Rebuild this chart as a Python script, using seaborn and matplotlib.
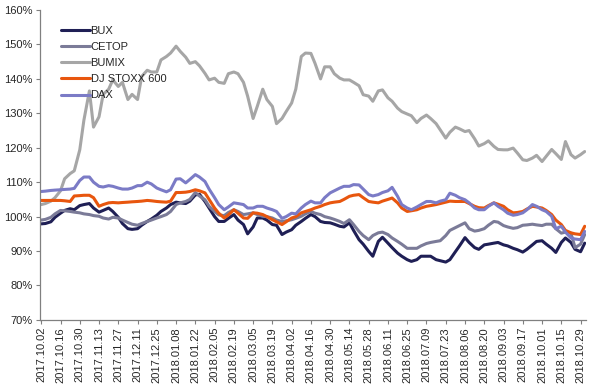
import pandas as pd
import matplotlib
matplotlib.use('Agg')
import matplotlib.pyplot as plt
import matplotlib.dates as mdates
from matplotlib.ticker import FuncFormatter
import seaborn as sns

sns.set_style('white')
plt.rcParams['font.family'] = ['Liberation Sans', 'DejaVu Sans']

# two readings a week: Mondays and Thursdays
mondays = pd.date_range('2017-10-02', '2018-10-29', freq='W-MON')
thursdays = pd.date_range('2017-10-05', '2018-11-01', freq='W-THU')

bux_mon = [97.9, 98.5, 101.0, 102.3, 103.2, 103.8, 101.3, 102.5, 99.8, 96.5,
           96.5, 98.6, 100.4, 102.5, 104.2, 103.8, 106.3, 104.4, 100.0, 98.6,
           100.6, 97.7, 97.0, 99.6, 97.7, 94.8, 96.2, 98.6, 100.6, 98.6,
           98.2, 97.2, 98.2, 93.3, 89.9, 92.8, 92.3, 89.4, 87.5, 87.5,
           88.5, 87.5, 86.8, 89.8, 93.9, 91.0, 91.8, 92.3, 91.8, 90.8,
           89.7, 91.8, 93.0, 90.8, 92.5, 92.5, 89.8]
bux_thu = [98.0, 99.8, 101.8, 102.0, 103.5, 102.5, 101.8, 101.5, 98.0, 96.3,
           97.5, 99.3, 101.5, 103.5, 104.0, 104.5, 106.5, 102.5, 98.6, 99.5,
           99.0, 95.0, 99.6, 99.0, 97.5, 95.5, 97.5, 99.5, 100.0, 98.3,
           97.8, 97.0, 96.0, 92.0, 88.5, 94.0, 91.0, 88.5, 87.0, 88.5,
           88.5, 87.2, 87.5, 91.5, 92.5, 90.5, 92.0, 92.5, 91.5, 90.4,
           90.5, 92.8, 92.0, 89.6, 93.8, 90.5, 92.3]

cetop_mon = [99.0, 99.8, 101.8, 101.5, 101.1, 100.6, 100.1, 99.3, 99.6, 98.3,
             97.5, 98.6, 99.6, 100.6, 103.5, 104.4, 107.0, 104.9, 101.5, 100.3,
             102.0, 100.6, 101.1, 100.1, 99.6, 98.6, 99.1, 100.1, 101.5, 100.6,
             99.6, 98.6, 99.1, 95.7, 93.3, 95.3, 94.8, 92.8, 90.8, 90.8,
             92.2, 92.8, 94.5, 96.8, 98.2, 95.8, 96.5, 98.6, 97.4, 96.6,
             97.5, 97.8, 97.4, 97.8, 95.2, 95.2, 92.0]
cetop_thu = [99.2, 100.8, 101.7, 101.3, 100.8, 100.3, 99.6, 99.8, 99.0, 97.8,
             98.0, 99.0, 100.0, 101.5, 104.0, 105.0, 106.0, 103.0, 100.5, 101.2,
             101.5, 100.8, 100.6, 100.0, 99.0, 98.8, 99.5, 100.8, 101.0, 100.0,
             99.2, 98.0, 97.7, 94.5, 94.5, 95.5, 93.8, 92.0, 90.8, 91.5,
             92.5, 93.0, 96.0, 97.4, 96.5, 96.0, 97.5, 98.4, 97.0, 96.8,
             97.6, 97.6, 97.8, 96.5, 95.5, 91.0, 94.8]

bumix_mon = [103.5, 104.5, 107.5, 112.5, 119.4, 136.5, 129.0, 137.0, 137.8, 134.0,
             134.0, 142.5, 142.0, 146.5, 149.5, 146.3, 145.0, 141.6, 140.2, 138.7,
             142.0, 139.0, 128.5, 137.0, 132.0, 128.5, 133.0, 146.5, 147.4, 140.0,
             143.5, 140.2, 139.7, 138.0, 135.0, 136.5, 134.5, 131.5, 129.8, 127.3,
             129.5, 127.0, 122.8, 126.0, 124.7, 122.6, 121.2, 120.4, 119.4, 119.9,
             116.5, 117.0, 116.0, 119.5, 116.6, 118.0, 118.0]
bumix_thu = [103.8, 105.5, 111.0, 113.3, 128.0, 126.0, 135.5, 139.7, 139.0, 135.5,
             140.7, 142.0, 145.5, 147.5, 148.0, 144.5, 143.8, 139.7, 139.0, 141.5,
             141.5, 135.0, 132.0, 134.0, 127.0, 130.5, 137.0, 147.5, 144.5, 143.5,
             141.5, 139.7, 139.0, 135.4, 133.5, 136.8, 133.5, 130.5, 129.3, 128.5,
             128.5, 125.2, 124.5, 125.5, 125.0, 120.5, 122.0, 119.5, 119.4, 118.5,
             116.3, 117.8, 117.5, 118.3, 121.8, 117.0, 118.9]

stoxx_mon = [104.7, 104.7, 104.7, 104.4, 106.1, 106.2, 103.0, 104.0, 104.0, 104.2,
             104.4, 104.7, 104.4, 104.2, 107.0, 107.1, 107.8, 106.9, 102.5, 99.6,
             102.0, 99.6, 101.1, 100.6, 99.1, 97.7, 99.6, 101.1, 102.0, 103.0,
             104.0, 104.4, 105.9, 106.4, 104.4, 104.0, 105.0, 104.0, 101.5, 102.0,
             103.0, 103.5, 104.2, 104.4, 104.4, 103.0, 102.5, 104.0, 103.0, 101.1,
             101.5, 103.0, 102.5, 100.6, 97.7, 95.3, 94.8]
stoxx_thu = [104.7, 104.7, 104.6, 106.0, 106.2, 105.5, 103.5, 104.1, 104.1, 104.3,
             104.5, 104.6, 104.3, 104.5, 107.0, 107.3, 107.5, 105.0, 101.0, 100.5,
             101.0, 99.5, 101.0, 100.0, 98.5, 98.5, 100.0, 101.5, 102.5, 103.5,
             104.2, 105.0, 106.2, 105.5, 104.2, 104.5, 105.4, 102.5, 101.7, 102.5,
             103.2, 103.8, 104.5, 104.4, 103.8, 102.6, 103.2, 103.6, 102.0, 101.2,
             102.2, 102.8, 101.8, 99.0, 96.0, 95.0, 97.2]

dax_mon = [107.3, 107.6, 107.8, 108.0, 110.5, 111.5, 108.8, 109.0, 108.3, 108.0,
           109.0, 110.0, 108.3, 107.2, 110.9, 109.8, 112.2, 110.2, 105.5, 102.0,
           104.0, 103.5, 102.5, 103.0, 102.0, 99.5, 101.0, 102.5, 104.5, 104.0,
           106.9, 108.3, 108.8, 109.2, 106.4, 106.4, 107.5, 105.9, 102.5, 102.8,
           104.4, 104.0, 104.9, 106.2, 104.9, 102.5, 102.0, 104.0, 102.0, 100.4,
           101.1, 103.5, 102.0, 100.1, 97.2, 93.8, 93.3]
dax_thu = [107.4, 107.7, 107.9, 108.2, 111.5, 110.0, 108.6, 108.8, 108.0, 108.3,
           109.0, 109.5, 107.8, 107.8, 111.0, 110.8, 111.5, 108.0, 103.5, 102.8,
           103.8, 102.5, 103.0, 102.5, 101.5, 100.0, 100.8, 103.5, 104.0, 105.5,
           107.5, 108.8, 109.3, 108.0, 106.0, 107.0, 108.5, 103.5, 102.0, 103.5,
           104.4, 104.5, 106.8, 105.5, 104.0, 102.0, 103.0, 103.0, 101.0, 100.6,
           102.0, 103.0, 101.5, 96.5, 95.5, 93.5, 95.7]

names = ['BUX', 'CETOP', 'BUMIX', 'DJ STOXX 600', 'DAX']
colors = ['#1f1f55', '#7b7b98', '#a6a6a6', '#e8560e', '#7b7bc6']

mon = pd.DataFrame({'date': mondays, 'BUX': bux_mon, 'CETOP': cetop_mon, 'BUMIX': bumix_mon,
                    'DJ STOXX 600': stoxx_mon, 'DAX': dax_mon})
thu = pd.DataFrame({'date': thursdays, 'BUX': bux_thu, 'CETOP': cetop_thu, 'BUMIX': bumix_thu,
                    'DJ STOXX 600': stoxx_thu, 'DAX': dax_thu})
df = pd.concat([mon, thu]).sort_values('date')
long = df.melt(id_vars='date', var_name='index', value_name='value')

fig = plt.figure(figsize=(5.95, 3.85), dpi=100)
ax = fig.add_axes([0.067, 0.169, 0.918, 0.805])

sns.lineplot(data=long, x='date', y='value', hue='index', hue_order=names,
             palette=dict(zip(names, colors)), linewidth=2.2, ax=ax)

ax.set_ylim(70, 160)
ax.set_yticks(range(70, 161, 10))
ax.yaxis.set_major_formatter(FuncFormatter(lambda v, p: '%d%%' % v))
ax.set_xlim(pd.Timestamp('2017-10-01'), pd.Timestamp('2018-11-02'))
ax.set_xticks(pd.date_range('2017-10-02', '2018-10-29', freq='14D'))
ax.xaxis.set_major_formatter(mdates.DateFormatter('%Y.%m.%d'))
plt.setp(ax.get_xticklabels(), rotation=90)
ax.tick_params(axis='both', labelsize=8, length=3, width=0.8, color='#808080',
               direction='out', pad=2)
ax.tick_params(axis='both', bottom=True, left=True)
ax.set_xlabel('')
ax.set_ylabel('')
for s in ['top', 'right']:
    ax.spines[s].set_visible(False)
for s in ['left', 'bottom']:
    ax.spines[s].set_color('#808080')
    ax.spines[s].set_linewidth(0.9)

ax.legend(loc='upper left', bbox_to_anchor=(0.038, 0.95), frameon=False,
          fontsize=8, handlelength=2.6, handletextpad=0.1, labelspacing=0.56,
          borderpad=0, borderaxespad=0)

fig.savefig('out.png', dpi=100)
